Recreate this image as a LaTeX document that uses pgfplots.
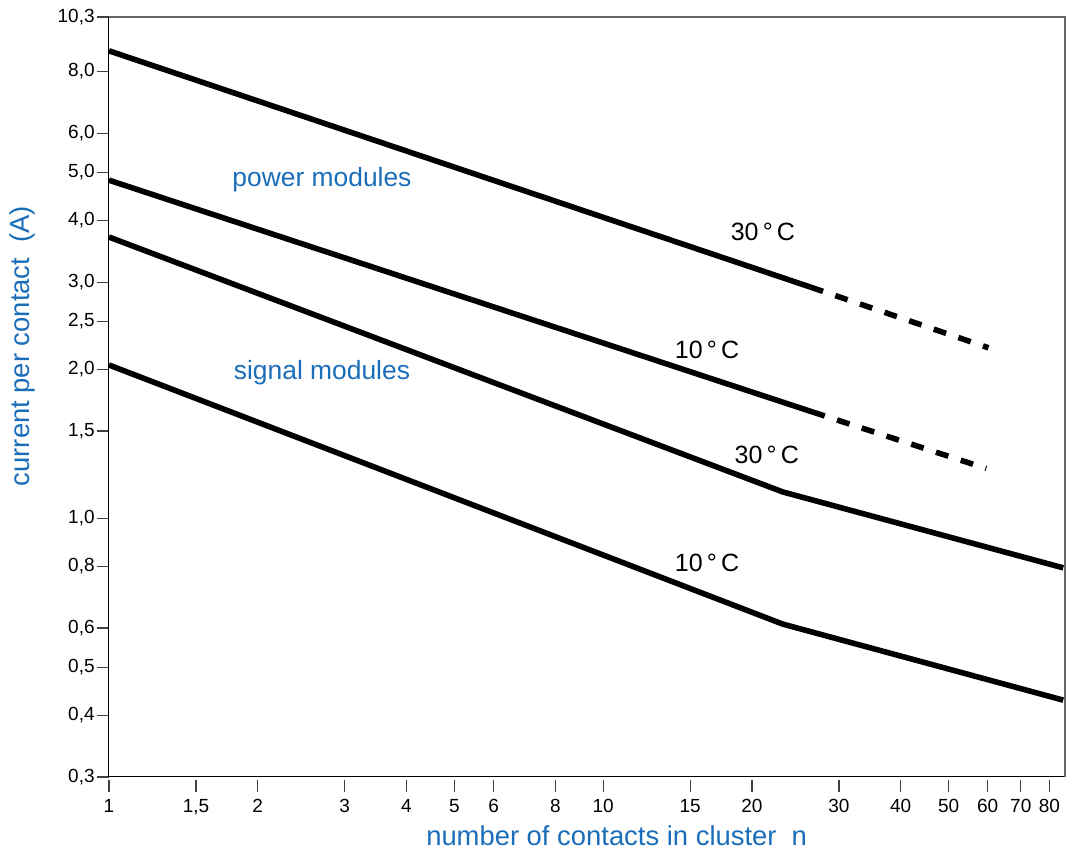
\documentclass[border=0pt]{standalone}
\usepackage{pgfplots}
\pgfplotsset{compat=1.18}
\usepackage{fontspec}
\setmainfont{Liberation Sans}
\definecolor{labelblue}{HTML}{1A6DB8}

\begin{document}
\begin{tikzpicture}
\begin{axis}[name=ax,
  scale only axis, width=478pt, height=380pt,
  xmode=log, ymode=log,
  xmin=1, xmax=86, ymin=0.3, ymax=10.3,
  axis lines=left, axis line style={-, black, line width=0.5pt},
  xtick={1,1.5,2,3,4,5,6,8,10,15,20,30,40,50,60,70,80},
  xticklabels={1,{1,5},2,3,4,5,6,8,10,15,20,30,40,50,60,70,80},
  ytick={0.3,0.4,0.5,0.6,0.8,1,1.5,2,2.5,3,4,5,6,8,10.3},
  yticklabels={{0,3},{0,4},{0,5},{0,6},{0,8},{1,0},{1,5},{2,0},{2,5},{3,0},{4,0},{5,0},{6,0},{8,0},{10,3}},
  minor tick num=0,
  tick align=outside, major tick length=6pt,
  tick style={black!75, line width=0.6pt},
  xtick style={yshift=-1.5pt},
  ticklabel style={font=\fontsize{9.5}{10}\selectfont, text=black},
  yticklabel style={inner sep=1pt},
  xticklabel style={yshift=-1.5pt},
  xlabel={number of contacts in cluster~~n},
  ylabel={current per contact~~(A)},
  label style={font=\fontsize{13.7}{15}\selectfont, text=labelblue},
  xlabel style={at={(axis description cs:0.531,0)}, anchor=center, yshift=-29.5pt},
  ylabel style={at={(axis description cs:-0.091,0.567)}, anchor=center},
  curve/.style={black, line width=2.8pt, line cap=butt, line join=round, mark=none},
  clip=false,
]
% power modules 30 C
\addplot[curve] coordinates {(1,8.8) (26.3,2.93)};
\addplot[curve, dash pattern=on 6.5pt off 6.5pt] coordinates {(26.3,2.93) (60.2,2.21)};
% power modules 10 C
\addplot[curve] coordinates {(1,4.82) (26.5,1.64)};
\addplot[curve, dash pattern=on 6.5pt off 6.5pt] coordinates {(26.5,1.64) (59.6,1.26)};
% signal modules 30 C
\addplot[curve] coordinates {(1,3.70) (23.1,1.13) (85.3,0.794)};
% signal modules 10 C
\addplot[curve] coordinates {(1,2.04) (23.1,0.611) (85.3,0.429)};

\node[text=labelblue, font=\fontsize{13.2}{15}\selectfont] at (rel axis cs:0.2228,0.7855) {power modules};
\node[text=labelblue, font=\fontsize{13.2}{15}\selectfont] at (rel axis cs:0.2228,0.5316) {signal modules};
\node[font=\fontsize{12.5}{14}\selectfont] at (rel axis cs:0.684,0.717) {30\,°\,C};
\node[font=\fontsize{12.5}{14}\selectfont] at (rel axis cs:0.6255,0.5618) {10\,°\,C};
\node[font=\fontsize{12.5}{14}\selectfont] at (rel axis cs:0.688,0.4237) {30\,°\,C};
\node[font=\fontsize{12.5}{14}\selectfont] at (rel axis cs:0.6255,0.2816) {10\,°\,C};
\end{axis}
\draw[black!60, line width=0.9pt] (ax.north west) -- (ax.north east) -- (ax.south east);
\pgfresetboundingbox
\path[use as bounding box] ([xshift=-54.5pt,yshift=-37pt]ax.south west) rectangle ([xshift=3.5pt,yshift=8.5pt]ax.north east);
\end{tikzpicture}
\end{document}
